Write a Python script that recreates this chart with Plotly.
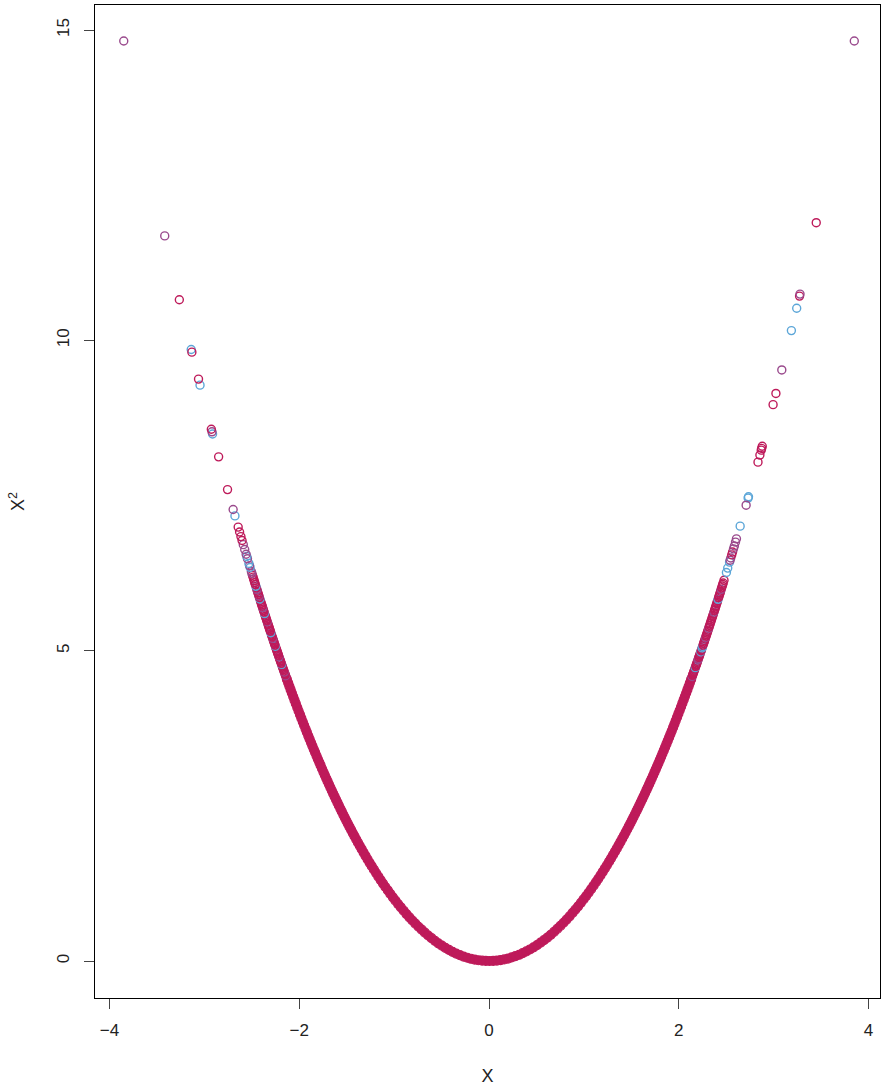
import plotly.graph_objects as go

# ---------------- data ----------------
CRIMSON = "#BE1A5A"
BLUE = "#5CA6D8"
PURPLE = "#9A4A8D"
palette = {"c": CRIMSON, "b": BLUE, "p": PURPLE}

# dense core of the parabola (overlapping circles render as a solid band)
core_x = [-2.13, -2.117, -2.104, -2.091, -2.078, -2.064,
          -2.05, -2.036, -2.021, -2.007, -1.992, -1.978, -1.963, -1.949, -1.934, -1.92,
          -1.905, -1.891, -1.876, -1.862, -1.847, -1.833, -1.818, -1.804, -1.789, -1.775,
          -1.76, -1.745, -1.731, -1.716, -1.702, -1.687, -1.672, -1.657, -1.642, -1.627,
          -1.612, -1.597, -1.582, -1.566, -1.551, -1.535, -1.519, -1.503, -1.487, -1.47,
          -1.453, -1.436, -1.418, -1.4, -1.381, -1.362, -1.342, -1.322, -1.301, -1.28,
          -1.258, -1.236, -1.213, -1.19, -1.166, -1.142, -1.117, -1.092, -1.066, -1.04,
          -1.013, -0.986, -0.958, -0.929, -0.9, -0.87, -0.839, -0.808, -0.776, -0.743,
          -0.71, -0.676, -0.641, -0.606, -0.57, -0.534, -0.497, -0.46, -0.422, -0.384,
          -0.346, -0.307, -0.268, -0.229, -0.19, -0.151, -0.112, -0.073, -0.034,
          0.005, 0.044, 0.083, 0.122, 0.161, 0.2, 0.239, 0.278, 0.317, 0.355,
          0.393, 0.431, 0.469, 0.506, 0.543, 0.579, 0.615, 0.65, 0.685, 0.719,
          0.752, 0.785, 0.817, 0.849, 0.88, 0.91, 0.939, 0.968, 0.996, 1.023,
          1.05, 1.076, 1.102, 1.127, 1.151, 1.175, 1.198, 1.221, 1.243, 1.265,
          1.286, 1.307, 1.327, 1.347, 1.366, 1.385, 1.404, 1.422, 1.44, 1.457,
          1.474, 1.491, 1.507, 1.523, 1.539, 1.555, 1.57, 1.585, 1.6, 1.615,
          1.63, 1.645, 1.66, 1.674, 1.688, 1.702, 1.716, 1.73, 1.744, 1.758,
          1.772, 1.786, 1.8, 1.814, 1.828, 1.842, 1.856, 1.87, 1.884, 1.898,
          1.912, 1.926, 1.94, 1.954, 1.968, 1.982, 1.996, 2.01, 2.024, 2.038, 2.052,
          2.065, 2.078, 2.091, 2.104, 2.117, 2.13]

# ring region (individual circles still partly visible), (x, colour code)
ring_left = [(-2.139, "c"), (-2.144, "p"), (-2.148, "c"), (-2.153, "c"),
             (-2.158, "p"), (-2.162, "c"), (-2.167, "c"), (-2.172, "c"), (-2.177, "c"),
             (-2.181, "c"), (-2.186, "b"), (-2.19, "c"), (-2.195, "c"), (-2.2, "c"),
             (-2.205, "c"), (-2.209, "c"), (-2.214, "p"), (-2.219, "c"), (-2.224, "c"),
             (-2.228, "c"), (-2.233, "c"), (-2.237, "c"), (-2.242, "c"), (-2.247, "c"),
             (-2.252, "b"), (-2.256, "c"), (-2.261, "c"), (-2.266, "c"), (-2.271, "c"),
             (-2.275, "c"), (-2.28, "p"), (-2.285, "c"), (-2.29, "c"), (-2.295, "c"),
             (-2.3, "b"), (-2.305, "c"), (-2.309, "c"), (-2.314, "c"), (-2.319, "c"),
             (-2.323, "c"), (-2.328, "c"), (-2.333, "c"), (-2.338, "p"), (-2.342, "c"),
             (-2.347, "c"), (-2.352, "c"), (-2.357, "c"), (-2.362, "c"), (-2.366, "b"),
             (-2.371, "c"), (-2.376, "c"), (-2.381, "c"), (-2.386, "p"), (-2.391, "c"),
             (-2.395, "c"), (-2.4, "c"), (-2.405, "c"), (-2.41, "c"), (-2.415, "b"),
             (-2.42, "c"), (-2.425, "p"), (-2.43, "c"), (-2.436, "c"), (-2.441, "c"),
             (-2.446, "p"), (-2.452, "c"), (-2.457, "b"), (-2.463, "c"), (-2.469, "c"),
             (-2.475, "c"), (-2.481, "c"), (-2.487, "c"), (-2.493, "c"), (-2.499, "p"),
             (-2.505, "p"), (-2.518, "b"), (-2.524, "p"), (-2.531, "b"), (-2.546, "p"),
             (-2.553, "b"), (-2.56, "p"), (-2.575, "p"), (-2.59, "p"), (-2.603, "c"),
             (-2.615, "c")]

ring_right = [(2.136, "c"), (2.141, "p"), (2.146, "c"), (2.15, "c"), (2.155, "c"),
              (2.16, "c"), (2.165, "c"), (2.17, "c"), (2.174, "b"), (2.179, "c"),
              (2.184, "c"), (2.188, "c"), (2.193, "c"), (2.198, "c"), (2.203, "p"),
              (2.208, "p"), (2.212, "c"), (2.217, "c"), (2.222, "c"), (2.227, "c"),
              (2.232, "b"), (2.236, "c"), (2.241, "c"), (2.246, "b"), (2.251, "b"),
              (2.256, "c"), (2.262, "c"), (2.267, "c"), (2.272, "c"), (2.278, "c"),
              (2.283, "p"), (2.288, "c"), (2.293, "c"), (2.299, "c"), (2.304, "c"),
              (2.309, "c"), (2.315, "p"), (2.32, "c"), (2.326, "c"), (2.332, "c"),
              (2.338, "c"), (2.343, "c"), (2.349, "c"), (2.355, "c"), (2.36, "c"),
              (2.366, "c"), (2.371, "p"), (2.377, "c"), (2.382, "c"), (2.388, "c"),
              (2.393, "c"), (2.399, "c"), (2.404, "c"), (2.409, "c"), (2.414, "b"),
              (2.42, "c"), (2.425, "c"), (2.431, "c"), (2.436, "c"), (2.441, "c"),
              (2.447, "p"), (2.452, "c"), (2.458, "c"), (2.463, "c"), (2.468, "c"),
              (2.477, "c"), (2.502, "b"), (2.516, "b"), (2.535, "b"), (2.541, "p"),
              (2.548, "p"), (2.558, "c"), (2.567, "c"), (2.577, "p"), (2.586, "p"),
              (2.598, "p")]

# sparse points in the tails, (x, colour code)
tail_left = [(-3.85, "p"), (-3.418, "p"), (-3.264, "c"), (-3.139, "b"), (-3.132, "c"),
             (-3.046, "b"), (-3.062, "c"), (-2.914, "b"), (-2.92, "p"), (-2.927, "c"),
             (-2.85, "c"), (-2.756, "c"), (-2.678, "b"), (-2.697, "p"), (-2.644, "c"),
             (-2.629, "c")]
tail_right = [(3.85, "p"), (3.449, "c"), (3.273, "c"), (3.278, "p"), (3.243, "b"),
              (3.187, "b"), (3.086, "p"), (3.024, "c"), (2.994, "c"), (2.88, "c"),
              (2.874, "c"), (2.869, "c"), (2.855, "c"), (2.835, "c"), (2.735, "b"),
              (2.731, "b"), (2.71, "p"), (2.647, "b"), (2.608, "p")]

x_ticks = [-4, -2, 0, 2, 4]
y_ticks = [0, 5, 10, 15]

# ---------------- figure ----------------
FONT = "Liberation Sans, Arial, Helvetica, sans-serif"
fig = go.Figure()

fig.add_trace(go.Scatter(
    x=core_x, y=[v ** 2 for v in core_x], mode="markers", hoverinfo="x+y",
    marker=dict(symbol="circle", size=9, color=CRIMSON,
                line=dict(color=CRIMSON, width=1.2)),
    showlegend=False))

ring_pts = ring_left + ring_right + tail_left + tail_right
rx = [p[0] for p in ring_pts]
rc = [palette[p[1]] for p in ring_pts]
fig.add_trace(go.Scatter(
    x=rx, y=[v ** 2 for v in rx], mode="markers",
    marker=dict(symbol="circle-open", size=8, color=rc, line=dict(width=1.4)),
    showlegend=False))


def lab(t):
    return ("\u2212" + str(abs(t))) if t < 0 else str(t)


axis_common = dict(
    showline=True, mirror=True, linecolor="black", linewidth=1,
    ticks="outside", ticklen=10, tickwidth=1, tickcolor="#444",
    showgrid=False, zeroline=False, automargin=False,
    tickfont=dict(family=FONT, size=17, color="#222"),
)

fig.update_xaxes(range=[-4.153, 4.121], tickvals=x_ticks, ticktext=[lab(t) for t in x_ticks],
                 ticklabelstandoff=7,
                 title=dict(text="X", font=dict(family=FONT, size=18, color="#222"), standoff=30),
                 **axis_common)
fig.update_yaxes(range=[-0.596, 15.403], tickvals=y_ticks, ticktext=[lab(t) for t in y_ticks],
                 tickangle=-90, ticklabelstandoff=8,
                 title=dict(text="X<sup>2</sup>", font=dict(family=FONT, size=18, color="#222"), standoff=24),
                 **axis_common)

fig.update_layout(
    width=885, height=1086,
    margin=dict(l=95, r=5, t=5, b=88, autoexpand=False),
    paper_bgcolor="white", plot_bgcolor="white",
    font=dict(family=FONT, size=16, color="#222"),
)

fig.write_html("out.html",
               config={"displayModeBar": False},
               post_script="document.body.style.margin='0';document.body.style.overflow='hidden';")
